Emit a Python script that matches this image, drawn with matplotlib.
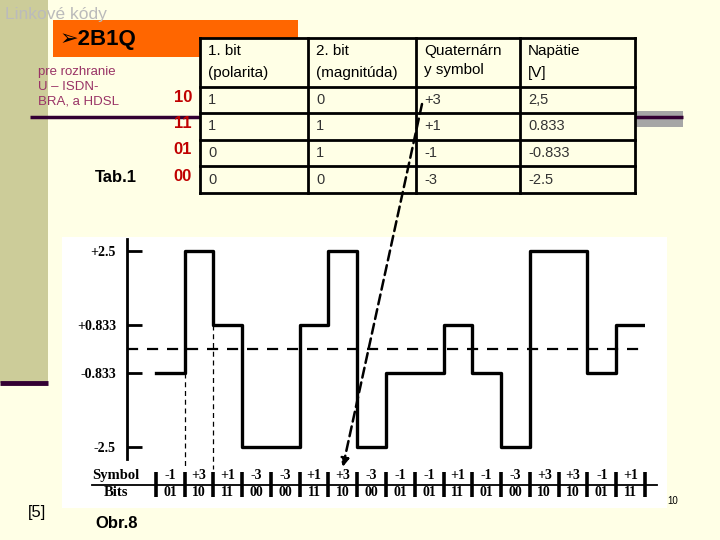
import numpy as np
import matplotlib.pyplot as plt
from matplotlib.patches import Rectangle

# data
symbols = ['-1', '+3', '+1', '-3', '-3', '+1', '+3', '-3', '-1',
           '-1', '+1', '-1', '-3', '+3', '+3', '-1', '+1']
bits = ['01', '10', '11', '00', '00', '11', '10', '00', '01',
        '01', '11', '01', '00', '10', '10', '01', '11']
level_names = ['+3', '+1', '-1', '-3']
level_volts = [2.5, 0.833, -0.833, -2.5]
ytick_labels = ['+2.5', '+0.833', '-0.833', '-2.5']

tab_header = ['1. bit\n(polarita)', '2. bit\n(magnitúda)', 'Quaternárn\ny symbol', 'Napätie\n[V]']
tab_codes = ['10', '11', '01', '00']
tab_rows = [['1', '0', '+3', '2,5'],
            ['1', '1', '+1', '0.833'],
            ['0', '1', '-1', '-0.833'],
            ['0', '0', '-3', '-2.5']]

SANS = ['Liberation Sans', 'DejaVu Sans']
SERIF = ['Liberation Serif', 'DejaVu Serif']
BG = '#FFFFE6'

fig = plt.figure(figsize=(7.2, 5.4), dpi=100, facecolor=BG)

# slide decoration, pixel coordinates
bg = fig.add_axes([0, 0, 1, 1])
bg.set_xlim(0, 720)
bg.set_ylim(540, 0)
bg.axis('off')
bg.add_patch(Rectangle((0, 0), 48, 383, color='#CCCC99', lw=0))
bg.plot([0, 48], [383, 383], color='#330033', lw=3.5, solid_capstyle='butt')
bg.add_patch(Rectangle((635, 111), 48, 16, color='#A6A6A6', lw=0))
bg.plot([30, 200], [117, 117], color='#330033', lw=2.5, solid_capstyle='butt')
bg.plot([635, 683], [117, 117], color='#330033', lw=2.5, solid_capstyle='butt')
bg.add_patch(Rectangle((53, 20), 245, 37, color='#FF6600', lw=0))
bg.add_patch(Rectangle((62, 237), 605, 271, color='white', lw=0))

bg.text(5, 15, 'Linkové kódy', fontsize=12.5, color='#BBBBBB', family=SANS, va='center')
bg.text(60, 39, '➢2B1Q', fontsize=16, fontweight='bold', color='black', family=SANS, va='center')
bg.text(38, 72, 'pre rozhranie', fontsize=9.5, color='#993366', family=SANS, va='center')
bg.text(38, 87, 'U – ISDN-', fontsize=9.5, color='#993366', family=SANS, va='center')
bg.text(38, 102, 'BRA, a HDSL', fontsize=9.5, color='#993366', family=SANS, va='center')
bg.text(95, 178, 'Tab.1', fontsize=12, fontweight='bold', family=SANS, va='center')
bg.text(28, 513, '[5]', fontsize=12, family=SANS, va='center')
bg.text(95, 523, 'Obr.8', fontsize=12, fontweight='bold', family=SANS, va='center')
bg.text(667, 501, '10', fontsize=7, family=SANS, va='center')

# table
col_x = [200, 308, 416, 520, 635]
row_y = [38, 87, 113, 140, 166, 193]
bg.add_patch(Rectangle((col_x[0], row_y[0]), col_x[-1] - col_x[0], row_y[-1] - row_y[0],
                       color=BG, lw=0))
for x in col_x:
    bg.plot([x, x], [row_y[0], row_y[-1]], color='black', lw=2, solid_capstyle='projecting')
for y in row_y:
    bg.plot([col_x[0], col_x[-1]], [y, y], color='black', lw=2, solid_capstyle='projecting')
for j, h in enumerate(tab_header):
    l1, l2 = h.split('\n')
    bg.text(col_x[j] + 8, 51, l1, fontsize=11, family=SANS, va='center')
    bg.text(col_x[j] + 8, 73 if j != 2 else 70, l2, fontsize=11, family=SANS, va='center')
for i, row in enumerate(tab_rows):
    yc = (row_y[i + 1] + row_y[i + 2]) / 2
    bg.text(192, yc - 3, tab_codes[i], fontsize=12, fontweight='bold', color='#C00000',
            family=SANS, ha='right', va='center')
    for j, val in enumerate(row):
        bg.text(col_x[j] + 8, yc, val, fontsize=10.5, color='#333333', family=SANS, va='center')

# waveform
volt = dict(zip(level_names, level_volts))
v = [volt[s] for s in symbols]
scale_v = [-5, -2.5, -0.833, 0, 0.833, 2.5, 5]
scale_px = [-209, -98, -24, 0, 24, 98, 209]


def fwd(y):
    return np.interp(y, scale_v, scale_px)


def inv(p):
    return np.interp(p, scale_px, scale_v)


ax = fig.add_axes([127 / 720, 81 / 540, 518 / 720, 220 / 540])
ax.patch.set_alpha(0)
ax.set_yscale('function', functions=(fwd, inv))
ax.set_xlim(-1, 17)
ax.set_ylim(-2.77, 2.77)
n = len(symbols)
ax.step(np.arange(n + 1), v + [v[-1]], where='post', color='black', lw=2.4)
ax.axhline(0, color='black', lw=1.6, ls=(0, (5, 4)))
ax.plot([1, 1], [v[0], -3.0], color='black', lw=0.9, ls=(0, (4, 3)), clip_on=False)
ax.plot([2, 2], [v[2], -3.0], color='black', lw=0.9, ls=(0, (4, 3)), clip_on=False)

for s in ['top', 'right', 'bottom']:
    ax.spines[s].set_visible(False)
ax.spines['left'].set_linewidth(2)
ax.set_xticks([])
ax.set_yticks(level_volts)
ax.set_yticklabels(ytick_labels, family=SERIF, fontweight='bold', fontsize=10)
ax.tick_params(axis='y', direction='in', length=11, width=2, pad=8)

# symbol / bits rows
tr = ax.get_xaxis_transform()
ax.plot([-2.22, 17.42], [-0.118, -0.118], color='black', lw=1.3, transform=tr, clip_on=False)
for k in range(n + 1):
    ax.plot([k, k], [-0.059, -0.173], color='black', lw=2.6, transform=tr, clip_on=False,
            solid_capstyle='butt')
ax.text(-1.38, -0.077, 'Symbol', transform=tr, ha='center', va='center',
        family=SERIF, fontweight='bold', fontsize=10.5)
ax.text(-1.38, -0.15, 'Bits', transform=tr, ha='center', va='center',
        family=SERIF, fontweight='bold', fontsize=10.5)
for k in range(n):
    ax.text(k + 0.5, -0.077, symbols[k], transform=tr, ha='center', va='center',
            family=SERIF, fontweight='bold', fontsize=10)
    ax.text(k + 0.5, -0.15, bits[k], transform=tr, ha='center', va='center',
            family=SERIF, fontweight='bold', fontsize=10)

# arrow from table cell to symbol +3
ax.annotate('', xy=(6.5, -0.036), xycoords=tr, xytext=(422, 540 - 104), textcoords='figure pixels',
            arrowprops=dict(arrowstyle='-|>', color='black', lw=1.8, ls=(0, (4, 2)),
                            mutation_scale=12, shrinkA=0, shrinkB=0))

fig.savefig('out.png', dpi=100, facecolor=BG)
